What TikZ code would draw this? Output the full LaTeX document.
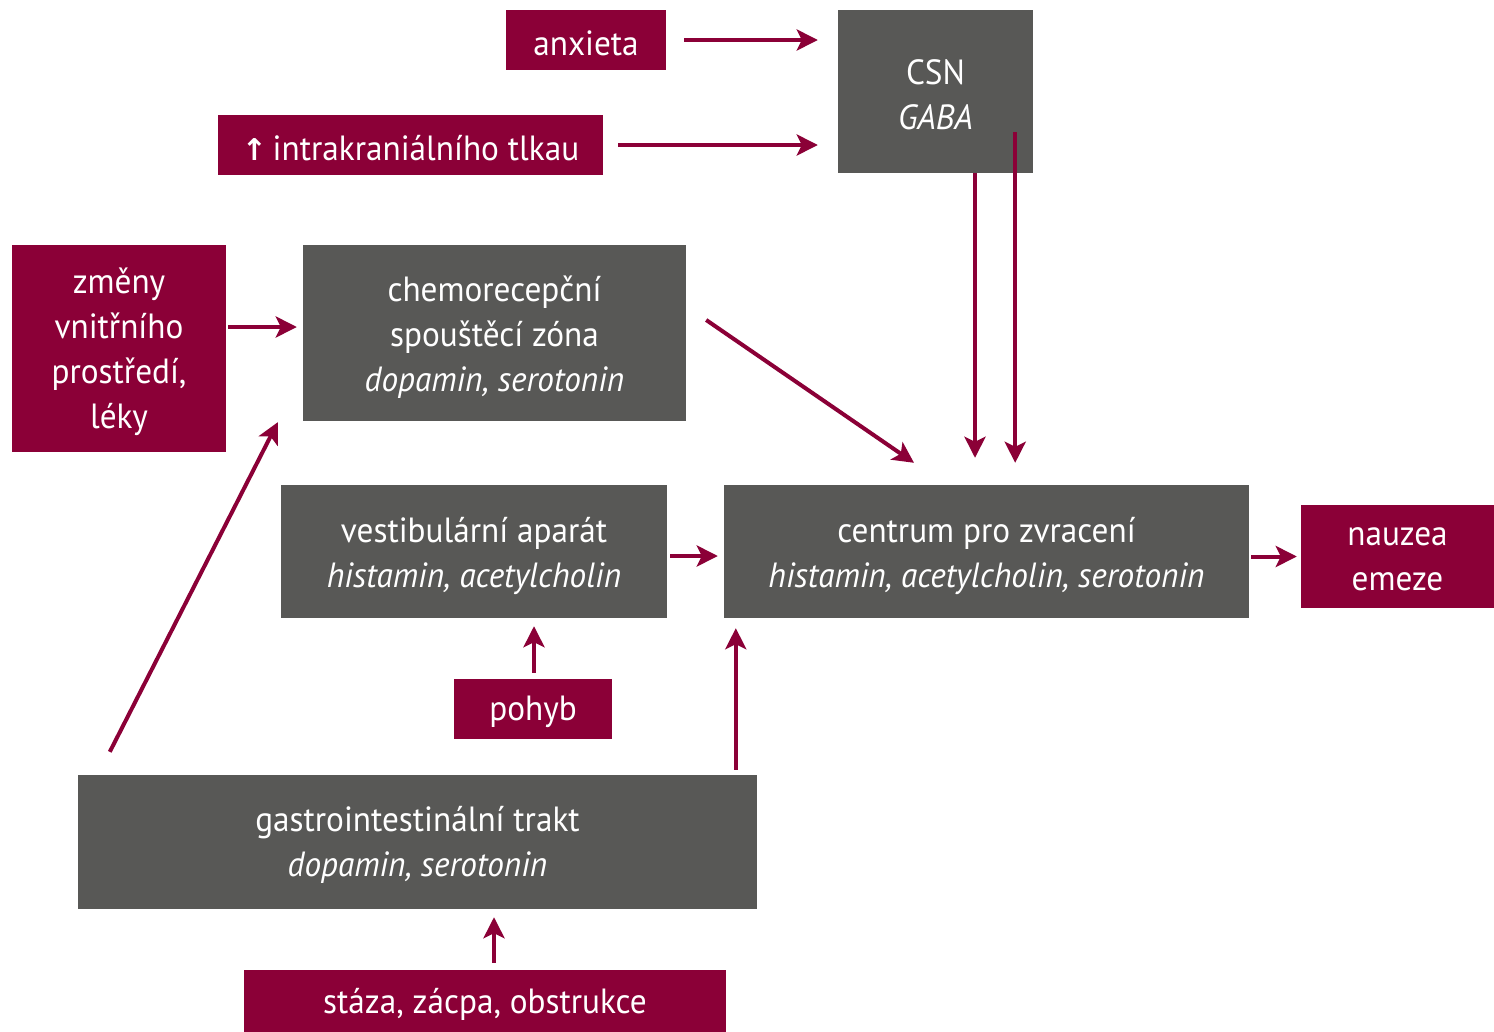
\documentclass[tikz,border=0pt]{standalone}
\usepackage{fontspec}
\setmainfont{PT Sans}[FakeStretch=0.95]
\newfontfamily\symfont{DejaVu Sans}
\usetikzlibrary{arrows.meta,calc}
\definecolor{crim}{HTML}{8B0037}
\definecolor{dgray}{HTML}{585856}
\begin{document}
\begin{tikzpicture}[x=1pt,y=-1pt,
  box/.style={fill=dgray,inner sep=0pt},
  rbox/.style={fill=crim,inner sep=0pt},
  txt/.style={text=white,align=center,inner sep=0pt,font=\fontsize{35}{45}\selectfont},
  arr/.style={draw=crim,line width=4pt,-{Stealth[length=21pt,width=21pt,inset=5pt]}}]
\useasboundingbox[fill=white] (0,0) rectangle (1494,1031);
\node[rbox,minimum width=160pt,minimum height=60pt] (anx) at (586,40) {};
\node[box,minimum width=195pt,minimum height=163pt] (csn) at (935.5,91.5) {};
\node[rbox,minimum width=385pt,minimum height=60pt] (intra) at (410.5,145) {};
\node[rbox,minimum width=214pt,minimum height=207pt] (zm) at (119,348.5) {};
\node[box,minimum width=383pt,minimum height=176pt] (chemo) at (494.5,333) {};
\node[box,minimum width=386pt,minimum height=133pt] (vest) at (474,551.5) {};
\node[box,minimum width=525pt,minimum height=133pt] (cent) at (986.5,551.5) {};
\node[rbox,minimum width=193pt,minimum height=103pt] (nau) at (1397.5,556.5) {};
\node[rbox,minimum width=158pt,minimum height=60pt] (poh) at (533,709) {};
\node[box,minimum width=679pt,minimum height=134pt] (gi) at (417.5,842) {};
\node[rbox,minimum width=482pt,minimum height=62pt] (sta) at (485,1001) {};
% texts
\node[txt] (anxT) at ($(anx)+(0,3)$) {anxieta};
\node[txt] (csnT) at ($(csn)+(0,3)$) {CSN\\\itshape GABA};
\node[txt] (intraT) at ($(intra)+(0,3)$) {{\symfont\bfseries\fontsize{30}{30}\selectfont↑}\,intrakraniálního tlkau};
\node[txt] (zmT) at ($(zm)+(0,3)$) {změny\\vnitřního\\prostředí,\\léky};
\node[txt] (chemoT) at ($(chemo)+(0,4)$) {chemorecepční\\spouštěcí zóna\\\itshape dopamin, serotonin};
\node[txt] (vestT) at ($(vest)+(0,4)$) {vestibulární aparát\\\itshape histamin, acetylcholin};
\node[txt] (centT) at ($(cent)+(0,4)$) {centrum pro zvracení\\\itshape histamin, acetylcholin, serotonin};
\node[txt] (nauT) at ($(nau)+(0,3)$) {nauzea\\emeze};
\node[txt] (pohT) at ($(poh)+(0,3)$) {pohyb};
\node[txt] (giT) at ($(gi)+(0,3)$) {gastrointestinální trakt\\\itshape dopamin, serotonin};
\node[txt] (staT) at ($(sta)+(0,3)$) {stáza, zácpa, obstrukce};
% connectors
\draw[arr,shorten <=18pt,shorten >=20pt] (anx.east) -- (anx.east -| csn.west);
\draw[arr,shorten <=15pt,shorten >=20pt] (intra.east) -- (intra.east -| csn.west);
\coordinate (zc) at ($(chemo.west)+(0,-6)$);
\draw[arr,shorten <=2pt,shorten >=6pt] (zc -| zm.east) -- (zc);
\draw[arr] ($(chemo.east)+(20,-13)$) -- ($(cent.north)+(-72.5,-22)$);
\coordinate (c1) at ($(csn.south)+(39.5,0)$);
\draw[arr,shorten >=27pt] (c1) -- (c1 |- cent.north);
\coordinate (c2) at ($(csn.south east)+(-18,-41)$);
\draw[arr,shorten >=22pt] (c2) -- (c2 |- cent.north);
\coordinate (vc) at ($(vest.east)+(0,4.5)$);
\draw[arr,shorten <=3pt,shorten >=6pt] (vc) -- (vc -| cent.west);
\draw[arr,shorten <=2pt,shorten >=4pt] (nau.west -| cent.east) -- (nau.west);
\coordinate (pc) at ($(poh.north)+(1,0)$);
\draw[arr,shorten <=6pt,shorten >=8pt] (pc) -- (pc |- vest.south);
\coordinate (gc) at ($(cent.south west)+(12,0)$);
\draw[arr,shorten <=5pt,shorten >=10pt] (gc |- gi.north) -- (gc);
\draw[arr] ($(gi.north west)+(32,-23)$) -- ($(chemo.south west)+(-25,1)$);
\coordinate (sc) at ($(sta.north)+(9,0)$);
\draw[arr,shorten <=7pt,shorten >=8pt] (sc) -- (sc |- gi.south);
\end{tikzpicture}
\end{document}
